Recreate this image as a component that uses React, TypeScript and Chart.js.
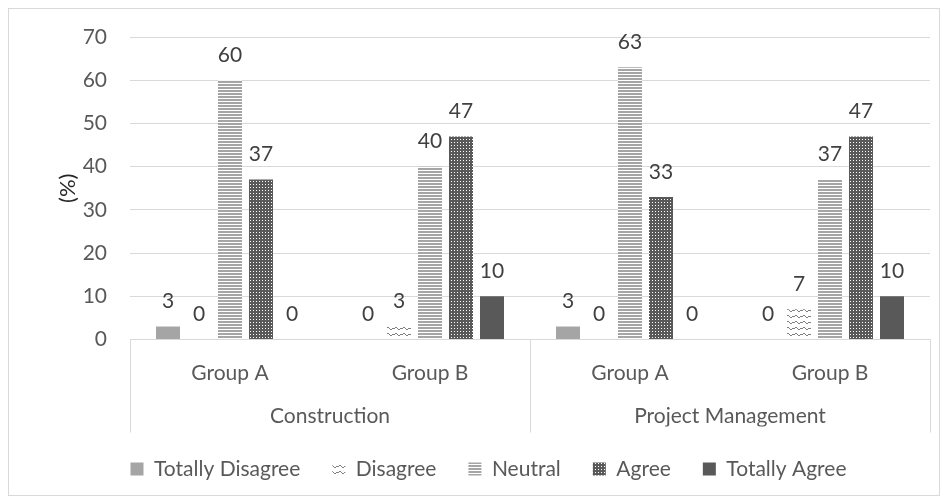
import React, { useEffect, useRef } from "react";
import { Chart, registerables } from "chart.js";

Chart.register(...registerables);

const categories = ["Group A", "Group B", "Group A", "Group B"];
const groups = ["Construction", "Project Management"];
const seriesNames = ["Totally Disagree", "Disagree", "Neutral", "Agree", "Totally Agree"];
const totallyDisagree = [3, 0, 3, 0];
const disagree = [0, 3, 0, 7];
const neutral = [60, 40, 63, 37];
const agree = [37, 47, 33, 47];
const totallyAgree = [0, 10, 0, 10];
const yTicks = [0, 10, 20, 30, 40, 50, 60, 70];

const FONT = "Lato";

function makePattern(w: number, h: number, bg: string, fg: string, rows: string[]): CanvasPattern | string {
  const c = document.createElement("canvas");
  c.width = w;
  c.height = h;
  const g = c.getContext("2d");
  if (!g) return fg;
  g.fillStyle = bg;
  g.fillRect(0, 0, w, h);
  g.fillStyle = fg;
  rows.forEach((r, y) => {
    for (let x = 0; x < r.length; x++) if (r[x] === "X") g.fillRect(x, y, 1, 1);
  });
  const p = g.createPattern(c, "repeat");
  return p || fg;
}

const dataLabelPlugin = {
  id: "dataLabels",
  afterDatasetsDraw(chart: any) {
    const ctx = chart.ctx;
    ctx.save();
    ctx.font = `21px ${FONT}`;
    ctx.fillStyle = "#404040";
    ctx.textAlign = "center";
    ctx.textBaseline = "middle";
    chart.data.datasets.forEach((ds: any, di: number) => {
      const meta = chart.getDatasetMeta(di);
      meta.data.forEach((el: any, i: number) => {
        ctx.fillText(String(ds.data[i]), el.x, el.y - 25);
      });
    });
    ctx.restore();
  },
};

// vertical separators of the two-level category axis, placed from the x scale
const groupSeparatorPlugin = {
  id: "groupSeparators",
  afterDraw(chart: any) {
    const xs = chart.scales.x;
    const x2 = chart.scales.x2;
    if (!xs || !x2) return;
    const mid = (xs.getPixelForTick(1) + xs.getPixelForTick(2)) / 2;
    const xsPos = [xs.left, mid, xs.right];
    const ctx = chart.ctx;
    ctx.save();
    ctx.strokeStyle = "#d9d9d9";
    ctx.lineWidth = 1;
    xsPos.forEach((px: number) => {
      const p = Math.round(px) + 0.5;
      ctx.beginPath();
      ctx.moveTo(p, xs.top);
      ctx.lineTo(p, xs.top + 93);
      ctx.stroke();
    });
    ctx.restore();
  },
};

export default function App() {
  const ref = useRef<HTMLCanvasElement | null>(null);

  useEffect(() => {
    if (!ref.current) return;
    const wave = makePattern(8, 6, "#ffffff", "#7f7f7f", [
      "..XX....",
      "XX..X..X",
      ".....XX.",
      "........",
      "........",
      "........",
    ]);
    const hlines = makePattern(4, 3, "#ffffff", "#a5a5a5", ["XXXX", "XXXX", "...."]);
    const dots = makePattern(3, 3, "#595959", "#ffffff", ["...", ".X.", "..."]);

    const chart = new Chart(ref.current, {
      type: "bar",
      data: {
        labels: categories,
        datasets: [
          { label: seriesNames[0], data: totallyDisagree, backgroundColor: "#a5a5a5" },
          { label: seriesNames[1], data: disagree, backgroundColor: wave as any },
          { label: seriesNames[2], data: neutral, backgroundColor: hlines as any },
          { label: seriesNames[3], data: agree, backgroundColor: dots as any },
          { label: seriesNames[4], data: totallyAgree, backgroundColor: "#595959" },
        ],
      },
      options: {
        animation: false,
        responsive: false,
        maintainAspectRatio: false,
        datasets: {
          bar: { categoryPercentage: 0.775, barPercentage: 0.774, borderWidth: 0 },
        },
        layout: { padding: { left: 38, right: 9, top: 28, bottom: 5.5 } },
        plugins: {
          tooltip: { enabled: false },
          legend: {
            position: "bottom",
            align: "center",
            labels: {
              boxWidth: 13,
              boxHeight: 13,
              padding: 32,
              color: "#595959",
              font: { family: FONT, size: 21 },
            },
          },
        },
        scales: {
          y: {
            min: 0,
            max: 70,
            afterBuildTicks: (axis: any) => {
              axis.ticks = yTicks.map((v) => ({ value: v }));
            },
            afterFit: (axis: any) => {
              axis.width = 83;
              axis.paddingTop = 0;
              axis.paddingBottom = 0;
            },
            grid: { color: "#d9d9d9", drawTicks: false, lineWidth: 1 },
            border: { display: false },
            ticks: {
              padding: 23,
              color: "#595959",
              font: { family: FONT, size: 21 },
            },
            title: {
              display: true,
              text: "(%)",
              color: "#262626",
              font: { family: FONT, size: 22 },
              padding: { top: 8, bottom: 2 },
            },
          },
          x: {
            type: "category",
            position: "bottom",
            offset: true,
            weight: 0,
            afterFit: (axis: any) => {
              axis.height = 46.1;
            },
            grid: {
              offset: true,
              display: true,
              drawOnChartArea: false,
              drawTicks: false,
              color: "rgba(0,0,0,0)",
            },
            border: { display: true, color: "#d9d9d9", width: 1 },
            ticks: {
              padding: 20.9,
              color: "#595959",
              font: { family: FONT, size: 21 },
              maxRotation: 0,
              autoSkip: false,
            },
          },
          x2: {
            type: "category",
            axis: "x",
            position: "bottom",
            labels: groups,
            offset: true,
            weight: 1,
            afterFit: (axis: any) => {
              axis.height = 40.9;
            },
            grid: { display: false, drawTicks: false },
            border: { display: false },
            ticks: {
              padding: 19.9,
              color: "#595959",
              font: { family: FONT, size: 21, lineHeight: 1 },
              maxRotation: 0,
              autoSkip: false,
            },
          },
        },
      } as any,
      plugins: [dataLabelPlugin, groupSeparatorPlugin],
    });
    return () => chart.destroy();
  }, []);

  return (
    <div
      style={{
        width: 932,
        height: 488,
        border: "1px solid #d9d9d9",
        boxSizing: "border-box",
        background: "#ffffff",
      }}
    >
      <canvas ref={ref} width={930} height={486} style={{ display: "block", width: 930, height: 486 }} />
    </div>
  );
}
